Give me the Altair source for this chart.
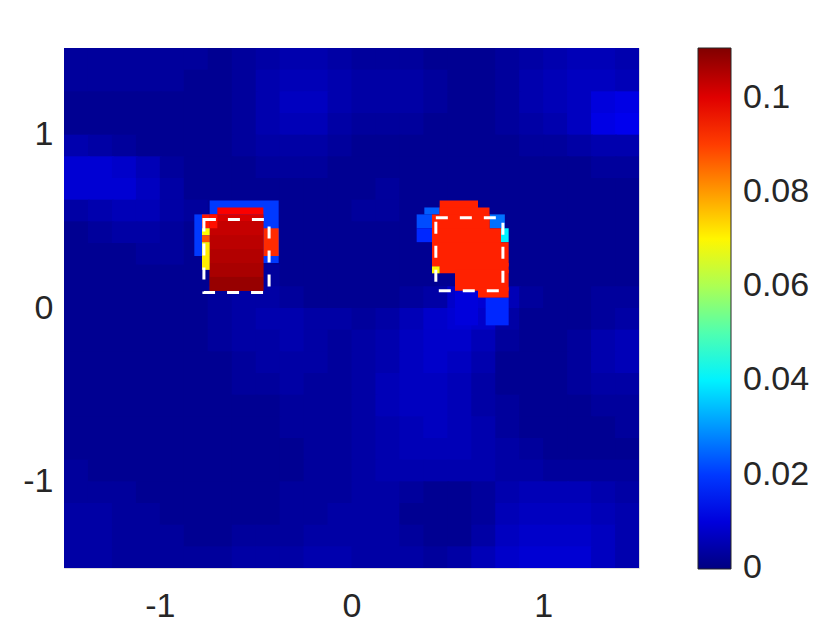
import altair as alt
import numpy as np
import pandas as pd

# ---- background field (values in units of 1e-3), rows from top (y=1.5) to bottom (y=-1.5)
X_EDGES = list(np.linspace(-1.5, 1.5, 25))
Y_EDGES = list(np.linspace(1.5, -1.5, 25))
BG_MILLI = [
    [3,3,3,3,3,3,2,3,4,5,5,4,3,3,3,2,2,2,3,4,5,6,6,5],
    [3,3,3,3,3,2,2,3,5,6,6,5,4,4,4,3,2,2,3,5,6,7,7,6],
    [2,2,2,2,2,2,2,3,5,7,7,5,4,4,4,3,2,2,3,5,6,7,10,11],
    [2,2,2,2,2,2,2,3,5,6,6,4,3,3,3,2,2,2,3,4,5,7,11,12],
    [5,4,3,2,2,2,2,3,4,4,4,3,2,2,2,2,2,2,2,3,3,4,5,5],
    [9,9,8,6,3,2,2,2,3,3,3,2,2,2,2,2,2,2,2,2,2,2,3,3],
    [9,9,9,7,4,2,2,2,2,2,2,2,2,3,2,2,2,2,2,2,2,2,2,2],
    [4,5,6,6,4,3,2,2,2,2,2,2,3,3,2,2,2,2,2,2,2,2,2,2],
    [2,3,4,4,3,2,2,2,2,2,2,2,2,2,2,2,2,2,2,2,2,2,2,2],
    [2,2,2,3,3,2,2,2,2,2,2,2,2,2,2,2,2,2,2,2,2,2,2,2],
    [2,2,2,2,2,2,2,2,3,2,2,2,2,2,2,2,2,2,2,2,2,2,2,2],
    [2,2,2,2,2,2,3,4,4,3,2,2,2,2,3,4,8,9,6,3,2,2,3,3],
    [2,2,2,2,2,2,3,4,5,5,4,4,3,4,6,8,9,8,4,2,2,2,3,4],
    [2,2,2,2,2,2,3,4,4,5,4,3,4,5,7,8,8,6,3,2,2,3,5,6],
    [2,2,2,2,2,2,2,3,4,4,4,3,4,5,7,8,7,5,2,2,2,3,5,6],
    [2,2,2,2,2,2,2,3,3,4,3,3,4,6,7,7,6,4,2,2,2,3,4,4],
    [2,2,2,2,2,2,2,2,2,3,3,3,4,6,7,7,6,4,3,2,2,2,3,3],
    [2,2,2,2,2,2,2,2,2,3,3,3,4,5,6,7,6,5,3,2,2,2,2,3],
    [2,2,2,2,2,2,2,2,2,2,3,3,4,5,6,6,6,5,4,3,2,2,2,2],
    [3,2,2,2,2,2,2,2,2,2,3,3,4,5,5,5,5,5,4,4,3,3,3,3],
    [3,3,3,2,2,2,2,2,2,3,3,3,4,4,3,2,2,3,5,6,6,6,5,4],
    [4,4,3,3,2,2,2,2,2,3,3,4,4,4,2,2,2,3,6,7,7,7,6,5],
    [4,4,3,3,3,2,2,3,3,3,4,4,4,4,3,2,2,4,7,8,8,8,7,5],
    [4,4,3,3,3,3,3,4,4,4,5,5,4,4,4,3,4,6,8,9,9,9,7,5],
]
CELL_OVERLAP = 0.01  # tiny overlap so neighbouring cells leave no seam

# ---- hot-spot patches (drawn in order, later ones on top): x0, x1, y0, y1, value
PATCH_X0 = [
    # left spot: halo, right patch, block base, top row, block rows, left strip
    -0.74, -0.82, -0.46, -0.74, -0.70, -0.74, -0.74, -0.74, -0.74, -0.74, -0.74, -0.74,
    -0.78, -0.78, -0.78, -0.78,
    # right spot: blue surroundings, cyan, red body, yellow cell
    0.54, 0.70, 0.34, 0.38, 0.72, 0.34, 0.78,
    0.46, 0.46, 0.42, 0.42, 0.42, 0.46, 0.54, 0.66, 0.42,
]
PATCH_X1 = [
    -0.38, -0.74, -0.38, -0.46, -0.46, -0.46, -0.46, -0.46, -0.46, -0.46, -0.46, -0.70,
    -0.74, -0.74, -0.74, -0.74,
    0.66, 0.82, 0.42, 0.46, 0.80, 0.42, 0.82,
    0.66, 0.72, 0.72, 0.78, 0.82, 0.82, 0.82, 0.82, 0.46,
]
PATCH_Y0 = [
    0.26, 0.30, 0.30, 0.10, 0.54, 0.50, 0.42, 0.34, 0.26, 0.18, 0.10, 0.46,
    0.46, 0.42, 0.38, 0.22,
    -0.10, -0.10, 0.46, 0.54, 0.46, 0.38, 0.38,
    0.54, 0.46, 0.38, 0.24, 0.24, 0.20, 0.10, 0.06, 0.20,
]
PATCH_Y1 = [
    0.62, 0.54, 0.46, 0.54, 0.58, 0.54, 0.50, 0.42, 0.34, 0.26, 0.18, 0.54,
    0.54, 0.46, 0.42, 0.38,
    0.10, 0.06, 0.54, 0.58, 0.54, 0.46, 0.46,
    0.62, 0.58, 0.54, 0.46, 0.38, 0.26, 0.22, 0.12, 0.24,
]
PATCH_V = [
    0.020, 0.020, 0.092, 0.104, 0.097, 0.101, 0.103, 0.104, 0.105, 0.106, 0.108, 0.095,
    0.094, 0.069, 0.088, 0.071,
    0.010, 0.018, 0.022, 0.024, 0.026, 0.018, 0.040,
    0.093, 0.093, 0.093, 0.093, 0.093, 0.093, 0.093, 0.093, 0.070,
]

# ---- dashed target boxes
BOX_X0 = [-0.77, 0.44]
BOX_X1 = [-0.43, 0.79]
BOX_Y0 = [0.09, 0.10]
BOX_Y1 = [0.51, 0.52]

# ---- axes and colour bar (bottom tick nudged off exact 0 so its label is centred on the bar end)
AXIS_TICKS = [-1, 0, 1]
CB_TICKS = [0.0002, 0.02, 0.04, 0.06, 0.08, 0.1]
JET_DOMAIN = [0, 0.0138, 0.0414, 0.069, 0.0966, 0.1105]
JET_RANGE = ["#000080", "#0000ff", "#00ffff", "#ffff00", "#ff0000", "#800000"]

bg_records = []
for j, row in enumerate(BG_MILLI):
    for i, v in enumerate(row):
        bg_records.append({"x0": X_EDGES[i], "x1": X_EDGES[i + 1] + CELL_OVERLAP,
                           "y0": Y_EDGES[j + 1] - CELL_OVERLAP, "y1": Y_EDGES[j], "v": v / 1000.0})
bg_df = pd.DataFrame(bg_records)
patch_df = pd.DataFrame({"x0": PATCH_X0, "x1": PATCH_X1, "y0": PATCH_Y0, "y1": PATCH_Y1, "v": PATCH_V})
box_df = pd.DataFrame({"x0": BOX_X0, "x1": BOX_X1, "y0": BOX_Y0, "y1": BOX_Y1})

FONT = "Liberation Sans"
TXT = "#262626"
FS = 34
LABEL_EXPR = "datum.value < 0 ? '-' + abs(datum.value) : '' + datum.value"

xscale = alt.Scale(domain=[-1.5, 1.5], nice=False, zero=False)
yscale = alt.Scale(domain=[-1.5, 1.5], nice=False, zero=False)
cscale = alt.Scale(domain=JET_DOMAIN, range=JET_RANGE, clamp=True, interpolate="rgb")

xaxis = alt.Axis(values=AXIS_TICKS, labelExpr=LABEL_EXPR, labelFontSize=FS, labelFont=FONT,
                 labelColor=TXT, ticks=False, domain=False, grid=False, title=None, labelPadding=21)
yaxis = alt.Axis(values=AXIS_TICKS, labelExpr=LABEL_EXPR, labelFontSize=FS, labelFont=FONT,
                 labelColor=TXT, ticks=False, domain=False, grid=False, title=None, labelPadding=11)

legend = alt.Legend(title=None, values=CB_TICKS, format=".2~f", orient="right", direction="vertical",
                    type="gradient",
                    gradientLength=521, gradientThickness=33, labelFontSize=FS, labelFont=FONT,
                    labelColor=TXT, labelOffset=12, padding=0, offset=59, labelOverlap=False,
                    labelBaseline="middle", gradientStrokeColor=TXT, gradientStrokeWidth=1)

bg = alt.Chart(bg_df).mark_rect(clip=True, strokeWidth=0).encode(
    x=alt.X("x0:Q", scale=xscale, axis=xaxis),
    x2="x1",
    y=alt.Y("y0:Q", scale=yscale, axis=yaxis),
    y2="y1",
    color=alt.Color("v:Q", scale=cscale, legend=legend),
)

patches = alt.Chart(patch_df).mark_rect(clip=True, strokeWidth=0).encode(
    x="x0:Q", x2="x1", y="y0:Q", y2="y1",
    color=alt.Color("v:Q", scale=cscale, legend=legend),
)

boxes = alt.Chart(box_df).mark_rect(filled=False, stroke="white", strokeWidth=3,
                                    strokeDash=[12, 12]).encode(
    x="x0:Q", x2="x1", y="y0:Q", y2="y1",
)

chart = alt.layer(bg, patches, boxes).properties(
    width=575, height=520,
    autosize=alt.AutoSizeParams(type="none"),
    padding={"left": 56, "top": 40, "right": 170, "bottom": 56},
).configure_view(stroke=TXT, strokeWidth=1).configure(background="white")

chart.save("out.html", embed_options={"renderer": "svg", "actions": False})
